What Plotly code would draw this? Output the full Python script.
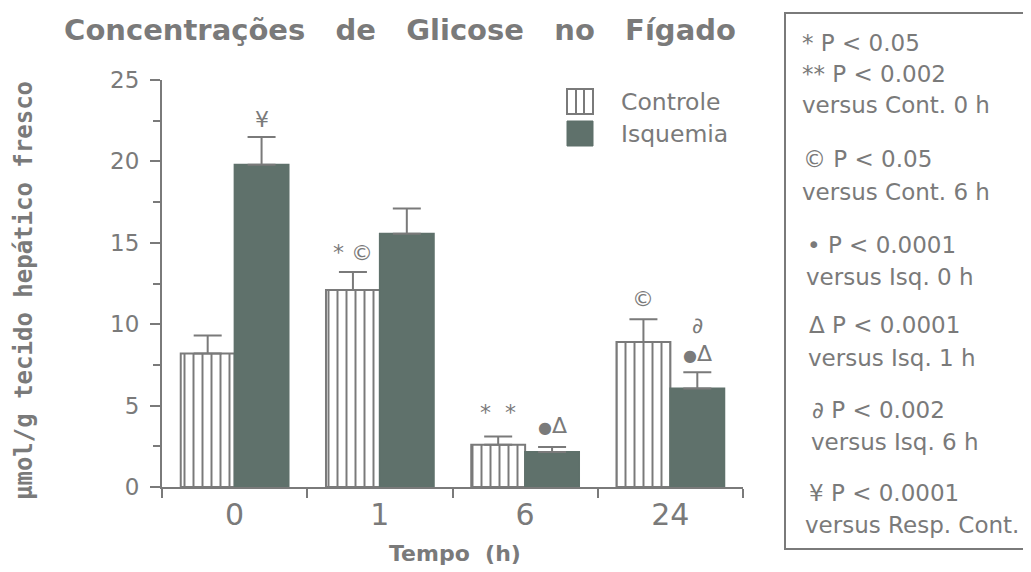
import plotly.graph_objects as go

# ---- data ----
categories = ["0", "1", "6", "24"]
controle = [8.2, 12.1, 2.6, 8.9]
controle_err = [1.1, 1.1, 0.5, 1.4]
isquemia = [19.8, 15.55, 2.15, 6.05]
isquemia_err = [1.7, 1.55, 0.3, 1.0]
series_names = ["Controle", "Isquemia"]

# significance marks: (category index, offset side, y value, text)
sig_cat = [0, 1, 2, 2, 3, 3, 3]
sig_side = [1, -1, -1, 1, -1, 1, 1]
sig_y = [22.6, 14.4, 4.6, 3.8, 11.6, 9.9, 8.2]
sig_text = ["¥", "* ©", "*  *", "●Δ", "©", "∂", "●Δ"]

box_lines = ["* P < 0.05", "** P < 0.002", "versus Cont. 0 h",
             "© P < 0.05", "versus Cont. 6 h",
             "• P < 0.0001", "versus Isq. 0 h",
             "Δ P < 0.0001", "versus Isq. 1 h",
             "∂ P < 0.002", "versus Isq. 6 h",
             "¥ P < 0.0001", "versus Resp. Cont."]

title_text = "Concentrações\u00a0\u00a0 de\u00a0\u00a0 Glicose\u00a0\u00a0 no\u00a0\u00a0 Fígado"
ytitle = "µmol/g tecido hepático fresco"
xtitle = "Tempo\u00a0 (h)"

# ---- style ----
GRAY = "#7a7a7a"
DARK = "#5f716b"
OFF = 8  # page body margin
W, H = 1031 - OFF, 572 - OFF
L, R, T, B = 162, 743, 80, 487  # plot area in screen pixels


def px(x):
    return (x - L) / (R - L)


def py(y):
    return (B - y) / (B - T)


fig = go.Figure()
fig.add_trace(go.Bar(
    x=categories, y=controle, name=series_names[0], showlegend=False,
    marker=dict(color="white", line=dict(color=GRAY, width=2),
                pattern=dict(shape="|", size=9, solidity=0.22, fgcolor=GRAY, bgcolor="white", fillmode="replace")),
    error_y=dict(type="data", symmetric=False, array=controle_err, arrayminus=[0] * 4,
                 color=GRAY, thickness=2, width=14),
))
fig.add_trace(go.Bar(
    x=categories, y=isquemia, name=series_names[1], showlegend=False,
    marker=dict(color=DARK, line=dict(color=DARK, width=2)),
    error_y=dict(type="data", symmetric=False, array=isquemia_err, arrayminus=[0] * 4,
                 color=GRAY, thickness=2, width=14),
))

annotations = []
off = 0.186
for c, s, yv, t in zip(sig_cat, sig_side, sig_y, sig_text):
    if "●" in t:
        t = t.replace("●", "<span style='font-size:16px'>●</span>")
    annotations.append(dict(x=c + s * off, y=yv, xref="x", yref="y", text=t, showarrow=False,
                            font=dict(size=22, color=GRAY, family="DejaVu Sans"),
                            xanchor="center", yanchor="middle"))

# right box text
line_x = [800, 800, 800, 801, 800, 805, 804, 807, 806, 810, 809, 807, 803]
line_y = [43, 74, 105, 159, 192, 245, 277, 325, 358, 410, 442, 493, 525]
for t, lx, ly in zip(box_lines, line_x, line_y):
    annotations.append(dict(x=px(lx), y=py(ly), xref="paper", yref="paper", text=t, showarrow=False,
                            xanchor="left", yanchor="middle",
                            font=dict(size=23, color=GRAY, family="DejaVu Sans")))

# legend (drawn)
leg_y = [102, 134]
for name, ly in zip(series_names, leg_y):
    annotations.append(dict(x=px(619), y=py(ly), xref="paper", yref="paper", text=name, showarrow=False,
                            xanchor="left", yanchor="middle",
                            font=dict(size=23.5, color=GRAY, family="DejaVu Sans")))
shapes = [
    dict(type="rect", xref="paper", yref="paper", x0=px(567), x1=px(593), y0=py(114), y1=py(89),
         line=dict(color=GRAY, width=2), fillcolor="white"),
    dict(type="line", xref="paper", yref="paper", x0=px(576), x1=px(576), y0=py(114), y1=py(89),
         line=dict(color=GRAY, width=2)),
    dict(type="line", xref="paper", yref="paper", x0=px(584), x1=px(584), y0=py(114), y1=py(89),
         line=dict(color=GRAY, width=2)),
    dict(type="rect", xref="paper", yref="paper", x0=px(567), x1=px(593), y0=py(146), y1=py(121),
         line=dict(color=DARK, width=1), fillcolor=DARK),
    dict(type="rect", xref="paper", yref="paper", x0=px(785), x1=px(1029), y0=py(549), y1=py(13),
         line=dict(color=GRAY, width=2), fillcolor="rgba(0,0,0,0)"),
]

# axis titles
annotations.append(dict(x=px(24), y=py(291), xref="paper", yref="paper", text=ytitle, showarrow=False,
                        textangle=-90, xanchor="center", yanchor="middle",
                        font=dict(size=24, color=GRAY, family="DejaVu Sans Mono", weight="bold")))
annotations.append(dict(x=px(455), y=py(553), xref="paper", yref="paper", text=xtitle, showarrow=False,
                        xanchor="center", yanchor="middle",
                        font=dict(size=22, color=GRAY, family="DejaVu Sans", weight="bold")))

fig.update_layout(
    width=W, height=H,
    margin=dict(l=L - OFF, r=W - (R - OFF), t=T - OFF, b=H - (B - OFF), pad=0),
    paper_bgcolor="white", plot_bgcolor="white",
    barmode="group", bargap=0.258, bargroupgap=0,
    title=dict(text=title_text, x=(400 - OFF) / W, y=1 - (30 - OFF) / H, xanchor="center", yanchor="middle",
               font=dict(size=29, color=GRAY, family="DejaVu Sans", weight="bold")),
    showlegend=False,
    annotations=annotations,
    shapes=shapes,
    font=dict(family="DejaVu Sans", color=GRAY),
)
fig.update_xaxes(type="category", range=[-0.5, 3.5], showgrid=False, zeroline=False,
                 showline=True, linecolor=GRAY, linewidth=2,
                 ticks="outside", tickson="boundaries", ticklen=9, tickwidth=2, tickcolor=GRAY,
                 tickfont=dict(size=30, color=GRAY, family="DejaVu Sans"))
fig.update_yaxes(range=[0, 25], dtick=5, showgrid=False, zeroline=False,
                 showline=True, linecolor=GRAY, linewidth=2,
                 ticks="outside", ticklen=10, tickwidth=2, tickcolor=GRAY,
                 ticklabelstandoff=6,
                 tickfont=dict(size=23, color=GRAY, family="DejaVu Sans"),
                 minor=dict(dtick=2.5, ticks="outside", ticklen=7, tickwidth=2, tickcolor=GRAY))

fig.write_html("out.html")
